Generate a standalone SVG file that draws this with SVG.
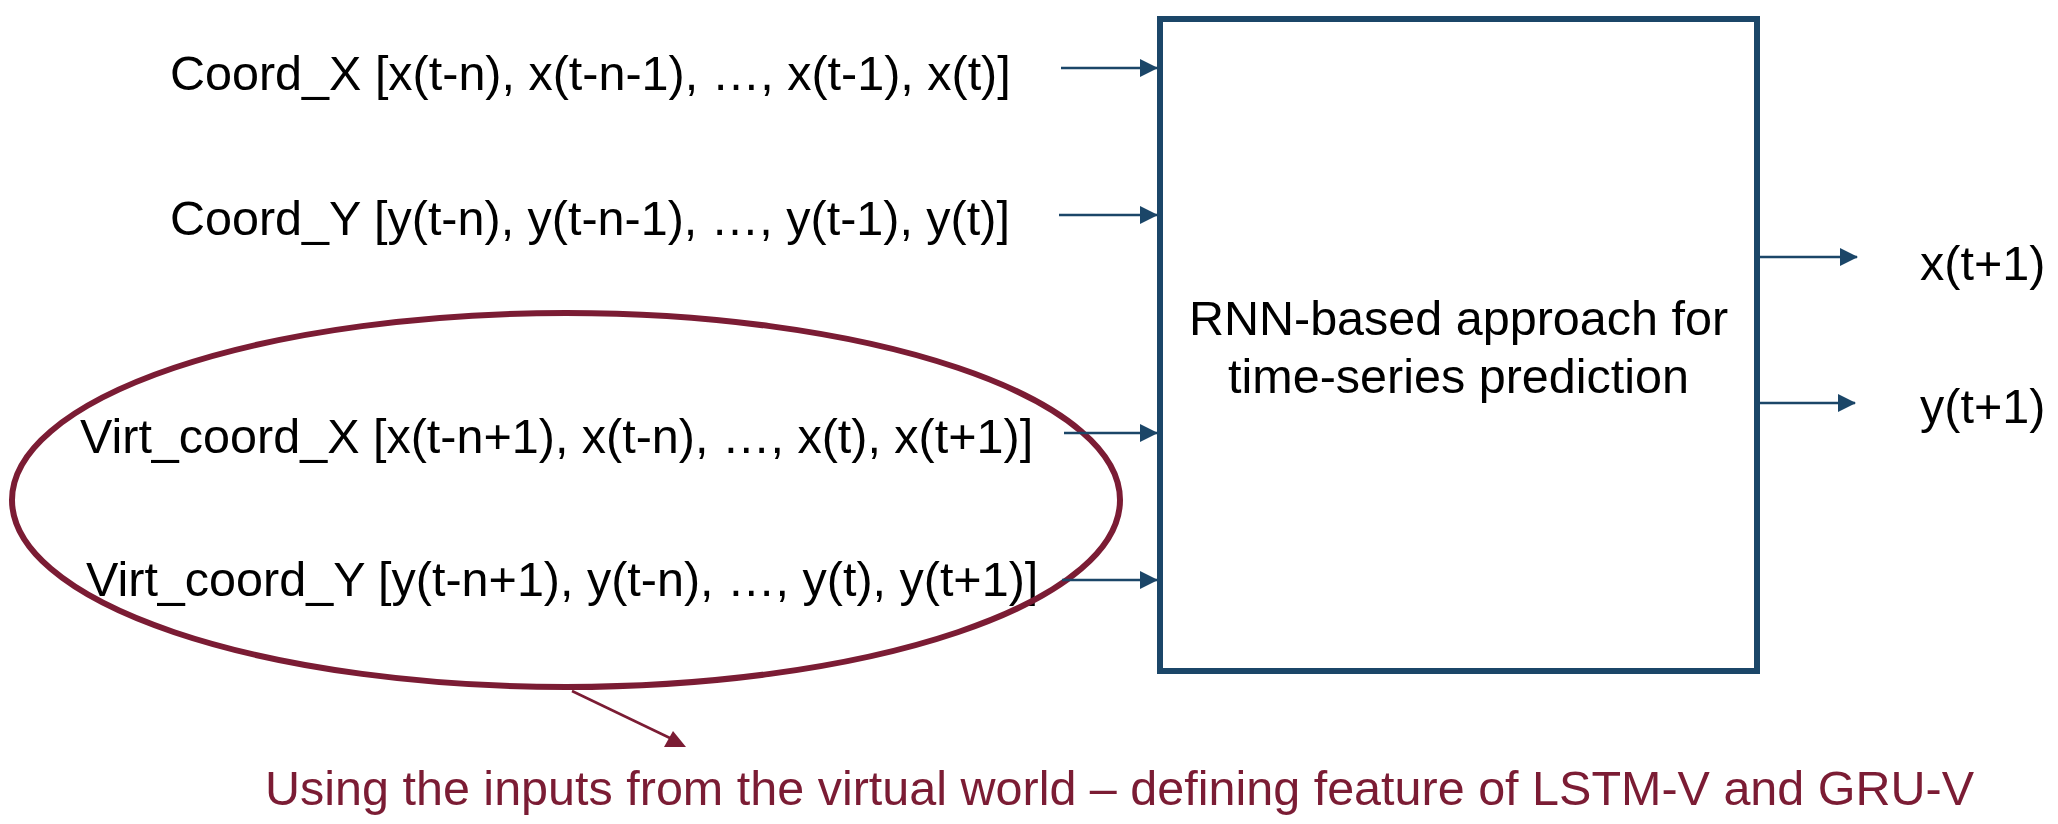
<svg xmlns="http://www.w3.org/2000/svg" width="2058" height="824" viewBox="0 0 2058 824">
  <style>
    .t { font-family: "Liberation Sans", Arial, sans-serif; font-size: 48.5px; fill: #000; }
    .m { fill: #7B1C34; }
    .c { stroke: #1B4668; stroke-width: 2.5; fill: none; }
  </style>
  <defs>
    <marker id="ah" viewBox="0 0 18 18" refX="17" refY="9" markerWidth="18" markerHeight="18" markerUnits="userSpaceOnUse" orient="auto">
      <path d="M0,0 L18,9 L0,18 Z" fill="#1B4668"/>
    </marker>
  </defs>

  <g id="node-rnn">
    <rect x="1160" y="19" width="597" height="652" fill="#fff" stroke="#1B4668" stroke-width="6"/>
    <text class="t" x="1458.5" y="335" text-anchor="middle">RNN-based approach for</text>
    <text class="t" x="1458.5" y="393" text-anchor="middle">time-series prediction</text>
  </g>

  <g id="node-coordx">
    <text class="t" x="170" y="90">Coord_X [x(t-n), x(t-n-1), …, x(t-1), x(t)]</text>
  </g>
  <g id="node-coordy">
    <text class="t" x="170" y="235">Coord_Y [y(t-n), y(t-n-1), …, y(t-1), y(t)]</text>
  </g>
  <g id="node-virtx">
    <text class="t" x="80" y="453">Virt_coord_X [x(t-n+1), x(t-n), …, x(t), x(t+1)]</text>
  </g>
  <g id="node-virty">
    <text class="t" x="86" y="596">Virt_coord_Y [y(t-n+1), y(t-n), …, y(t), y(t+1)]</text>
  </g>
  <g id="node-outx">
    <text class="t" x="1920" y="280">x(t+1)</text>
  </g>
  <g id="node-outy">
    <text class="t" x="1920" y="423">y(t+1)</text>
  </g>

  <g id="node-virtual-group">
    <ellipse cx="566" cy="500" rx="554" ry="187" fill="none" stroke="#7B1C34" stroke-width="6"/>
  </g>

  <g id="node-note">
    <text class="t m" x="265" y="805">Using the inputs from the virtual world – defining feature of LSTM-V and GRU-V</text>
  </g>

  <g id="connectors">
    <line class="c" x1="1061" y1="68" x2="1157" y2="68" marker-end="url(#ah)"/>
    <line class="c" x1="1059" y1="215" x2="1157" y2="215" marker-end="url(#ah)"/>
    <line class="c" x1="1064" y1="433" x2="1157" y2="433" marker-end="url(#ah)"/>
    <line class="c" x1="1062" y1="580" x2="1157" y2="580" marker-end="url(#ah)"/>
    <line class="c" x1="1760" y1="257" x2="1857" y2="257" marker-end="url(#ah)"/>
    <line class="c" x1="1760" y1="403" x2="1855" y2="403" marker-end="url(#ah)"/>
    <line x1="572" y1="691" x2="672" y2="739" stroke="#7B1C34" stroke-width="2.5"/>
    <polygon points="673,731 664,747 686,747" fill="#7B1C34"/>
  </g>
</svg>
